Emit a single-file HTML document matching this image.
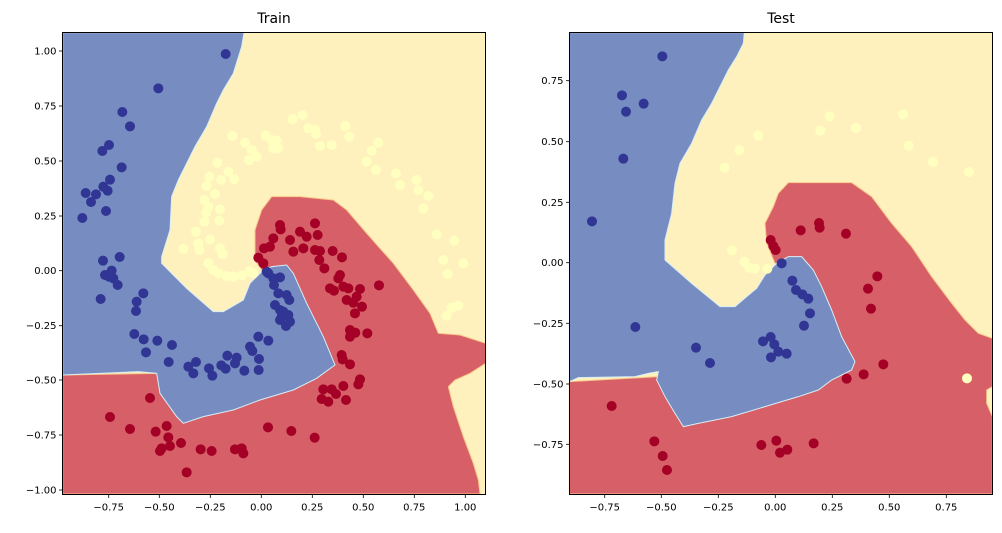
<!DOCTYPE html>
<html><head><meta charset="utf-8"><style>
body{margin:0;background:#fff;}
svg text{font-family:"DejaVu Sans","Liberation Sans",sans-serif;fill:#000;}
</style></head><body>
<svg id="s" width="1002" height="528" xmlns="http://www.w3.org/2000/svg">
<rect width="1002" height="528" fill="#fff"/>
<g id="tr" transform="translate(60,30) scale(0.33333)">
<rect x="8" y="8" width="1269" height="1384" fill="#fef1bd"/>
<polygon fill="#d75f67" stroke="#f9c88a" stroke-width="3" points="605,720 585,690 585,600 605,540 635,500 720,500 820,510 860,540 920,610 1000,700 1060,780 1110,850 1135,910 1200,915 1277,940 1277,1000 1230,1030 1185,1050 1165,1070 1180,1130 1210,1220 1240,1300 1255,1350 1260,1392 8,1392 8,1035 300,1030 500,1000 700,900 650,720 610,720"/>
<polygon fill="#778dc1" stroke="#d8eef5" stroke-width="3" points="8,8 552,8 545,50 520,130 490,180 470,220 440,290 405,350 380,400 355,450 335,500 330,600 305,680 305,700 380,775 460,845 490,845 550,810 570,760 610,720 635,710 680,705 700,730 740,820 790,920 825,1005 770,1045 700,1080 600,1110 520,1140 430,1160 370,1180 350,1160 300,1090 290,1030 235,1025 8,1035"/>
</g>
<g id="te" transform="translate(565,30) scale(0.33333)">
<rect x="13" y="8" width="1269" height="1384" fill="#fef1bd"/>
<polygon fill="#d75f67" stroke="#f9c88a" stroke-width="3" points="630,700 605,640 600,580 625,530 640,490 670,458 860,458 920,500 980,580 1040,650 1100,740 1160,820 1200,870 1240,910 1282,925 1282,1070 1265,1080 1265,1120 1282,1160 1282,1392 13,1392 13,1055 280,1040 500,1050 750,950 680,700 635,700"/>
<polygon fill="#778dc1" stroke="#d8eef5" stroke-width="3" points="13,8 538,8 535,40 515,80 490,120 470,160 440,220 410,270 380,340 345,400 330,460 320,550 300,630 300,690 380,760 465,830 510,830 545,800 575,775 600,735 635,700 670,680 710,680 745,720 770,770 800,840 830,920 870,995 860,1020 800,1050 760,1080 700,1100 600,1130 500,1160 400,1180 355,1190 330,1150 300,1100 275,1050 280,1025 250,1030 210,1040 40,1043 13,1055"/>
</g>
<rect x="62.5" y="32.5" width="423" height="462" fill="none" stroke="#000" stroke-width="1"/>
<rect x="569.5" y="32.5" width="423" height="462" fill="none" stroke="#000" stroke-width="1"/>
<text x="274" y="23" font-size="14" text-anchor="middle">Train</text>
<text x="781" y="23" font-size="14" text-anchor="middle">Test</text>
<g id="ticks" font-size="10"></g>
</svg>
<script>
var NS="http://www.w3.org/2000/svg";
function dots(g,arr,col){var e=document.getElementById(g);for(var i=0;i<arr.length;i+=2){var c=document.createElementNS(NS,"circle");c.setAttribute("cx",arr[i]);c.setAttribute("cy",arr[i+1]);c.setAttribute("r",15);c.setAttribute("fill",col);e.appendChild(c);}}
dots("tr",[497,72,295,175,187,246,210,289,147,345,127,363,185,412,150,449,130,470,143,482,77,489,108,493,93,516,138,543,67,564,129,692,179,681,135,735,155,722,160,745,147,740,173,765,122,807,250,790,230,815,228,843,223,912,251,928,292,932,336,945,258,967,326,996,385,1010,408,996,400,1030,447,1015,457,1037,484,1006,497,1016,502,977,530,983,525,1000,553,1022,570,950,577,963,595,920,625,932,597,987,596,1020,625,730,640,745,660,742,642,765,655,790,680,795,688,810,645,825,660,840,665,860,685,855,690,875,678,888,660,870,670,845,620,725],"#313695");
dots("tr",[595,683,610,700,612,655,630,650,640,625,660,585,662,598,690,630,720,605,740,620,700,665,730,655,765,580,773,615,765,660,780,663,778,690,793,715,818,663,846,682,840,735,835,745,850,770,865,775,900,777,810,775,822,782,860,810,890,800,880,818,906,830,885,850,957,766,870,900,886,908,870,920,922,910,845,975,848,988,870,1003,900,1048,895,1063,850,1068,790,1078,815,1078,828,1092,785,1107,805,1115,858,1110,270,1104,150,1161,210,1197,287,1205,320,1188,325,1222,305,1255,300,1263,330,1248,363,1239,422,1258,455,1263,525,1258,545,1255,550,1270,380,1327,624,1192,694,1203,764,1223],"#a50026");
dots("tr",[698,267,728,255,745,295,765,300,768,312,856,288,868,320,780,348,815,345,517,318,555,338,617,317,635,330,650,332,640,355,655,355,575,360,590,380,567,390,472,398,505,425,522,447,448,440,483,450,440,468,465,492,433,510,445,530,480,538,438,548,433,575,478,572,408,605,450,628,415,640,418,660,370,657,480,655,488,672,445,700,460,720,475,730,500,738,520,740,545,736,568,724,580,730,955,338,935,362,920,395,948,420,1008,430,1020,465,1070,450,1075,480,1105,498,1090,535,1130,613,1183,632,1150,690,1210,700,1163,732,1175,833,1195,827,1160,857],"#ffffbf");
dots("te",[292,79,171,196,236,221,183,245,175,386,81,574,211,891,393,953,435,999,650,700,682,752,693,780,712,793,730,806,735,850,717,887,594,934,617,921,628,943,640,965,665,971,618,982],"#313695");
dots("te",[617,630,625,648,632,660,707,601,762,579,764,593,843,611,937,739,909,776,918,836,955,1003,896,1033,845,1046,140,1128,268,1234,293,1278,306,1320,589,1245,634,1232,645,1268,667,1259,746,1240],"#a50026");
dots("te",[794,259,1014,253,766,302,873,294,580,317,523,360,1031,347,479,413,1104,396,1212,426,501,661,538,695,553,714,570,715,607,716,1206,1045],"#ffffbf");
var t=document.getElementById("ticks");
function line(x1,y1,x2,y2){var l=document.createElementNS(NS,"line");l.setAttribute("x1",x1);l.setAttribute("y1",y1);l.setAttribute("x2",x2);l.setAttribute("y2",y2);l.setAttribute("stroke","#000");l.setAttribute("stroke-width","0.8");t.appendChild(l);}
function txt(x,y,s,a){var e=document.createElementNS(NS,"text");e.setAttribute("x",x);e.setAttribute("y",y);e.setAttribute("text-anchor",a);e.textContent=s;t.appendChild(e);}
function xt(xs,labs,by){for(var i=0;i<xs.length;i++){line(xs[i],by,xs[i],by+3.5);txt(xs[i],by+16,labs[i],"middle");}}
function yt(ys,labs,lx){for(var i=0;i<ys.length;i++){line(lx-3.5,ys[i],lx,ys[i]);txt(lx-6,ys[i]+3.5,labs[i],"end");}}
xt([108.7,159.3,210.3,261.3,312.3,363.3,414.3,465.3],["−0.75","−0.50","−0.25","0.00","0.25","0.50","0.75","1.00"],494.5);
yt([51,106,161,216,270.7,325.7,380,435,490],["1.00","0.75","0.50","0.25","0.00","−0.25","−0.50","−0.75","−1.00"],62.5);
xt([604.7,661.3,718.3,775.3,832.3,889.3,946.3],["−0.75","−0.50","−0.25","0.00","0.25","0.50","0.75"],494.5);
yt([80.7,141.7,202.3,262.7,323.3,384,444.3],["0.75","0.50","0.25","0.00","−0.25","−0.50","−0.75"],569.5);
</script>
</body></html>
